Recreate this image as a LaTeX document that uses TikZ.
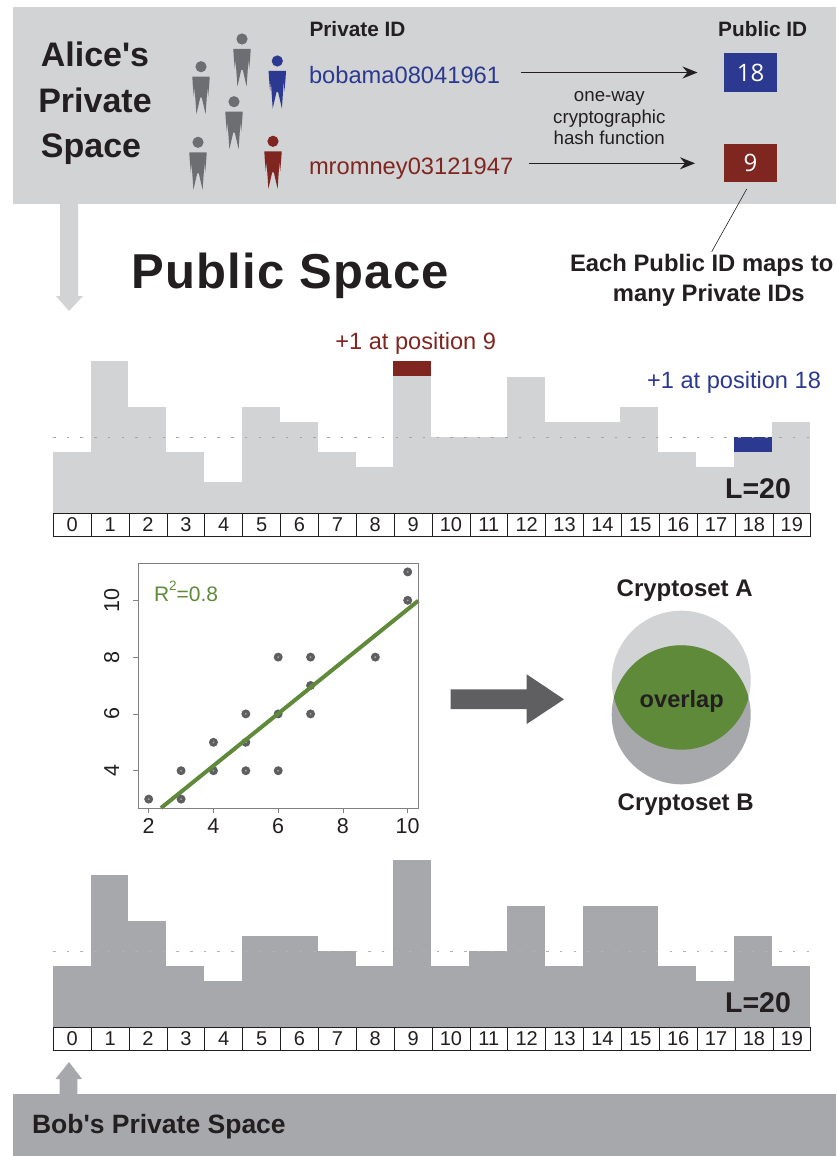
\documentclass[tikz,border=0pt]{standalone}
\usepackage{fontspec}
\setmainfont{Liberation Sans}[Ligatures=TeXOff]
\newfontfamily\openfont{Open Sans}
\usetikzlibrary{arrows.meta,calc}
\definecolor{ink}{HTML}{231F20}
\definecolor{lightbar}{HTML}{D2D3D5}
\definecolor{darkbar}{HTML}{A7A8AB}
\definecolor{idblue}{HTML}{2B3990}
\definecolor{idred}{HTML}{802620}
\definecolor{fig}{HTML}{6D6E71}
\definecolor{dark}{HTML}{5F5F61}
\definecolor{leaf}{HTML}{5F8A3A}
\newcommand{\fs}[1]{\fontsize{#1}{#1}\selectfont}
\newcommand{\person}[3]{%
  \fill[#3] (#1,#2) circle[radius=5.6];
  \fill[#3,shift={(#1,#2)}] (-8.7,10)--(8.7,10)--(8.3,17)--(7.2,30)--(6.3,20)--(6,27)--(4.6,47.5)--(0.8,31)--(-0.8,31)--(-4.6,47.5)--(-6,27)--(-6.3,20)--(-7.2,30)--(-8.3,17)--cycle;}
\tikzset{
  lbl/.style={inner sep=0pt,outer sep=0pt,text=ink},
  head/.style={lbl,font=\bfseries\fs{34},anchor=base},
  colhead/.style={lbl,font=\bfseries\fs{20.8},anchor=base},
  idtext/.style={lbl,font=\fs{23.7},anchor=base west},
  idbox/.style={inner sep=0pt,outer sep=0pt,minimum width=53pt,minimum height=38pt,text=white,font=\openfont\fs{24}},
  poslbl/.style={lbl,font=\fs{23.6},anchor=base},
  hashtext/.style={lbl,font=\fs{18.7},anchor=base},
  cell/.style={draw=ink,line width=0.6pt,fill=white,inner sep=0pt,outer sep=0pt,minimum width=37.87pt,minimum height=23pt,font=\fs{20},text=ink},
  binlen/.style={lbl,font=\bfseries\fs{28.5},anchor=base},
  setlbl/.style={lbl,font=\bfseries\fs{24},anchor=base},
  axnum/.style={lbl,font=\fs{21.5},anchor=base},
  guide/.style={line width=0.7pt,dash pattern=on 2.5pt off 11.2pt},
  hashline/.style={line width=1pt,draw=ink,-{Stealth[length=15pt,width=12pt,inset=5pt]}},
  axtick/.style={line width=0.6pt,draw=gray},
  x=1pt,y=-1pt
}
\begin{document}
\begin{tikzpicture}
\useasboundingbox (0,0) rectangle (836,1156);
% private space panels
\fill[lightbar] (60,204) -- (60,296) -- (56,296) -- (69,311) -- (83,296) -- (78,296) -- (78,204) -- cycle;
\fill[lightbar] (13,7.5) rectangle (836,204);
\fill[darkbar] (59.7,1095) -- (59.7,1079) -- (55.5,1079) -- (69,1062) -- (82,1079) -- (77.3,1079) -- (77.3,1095) -- cycle;
\fill[darkbar] (13,1094.3) rectangle (836,1156);
% panel headings
\node[head] (al1) at (95,66.7) {Alice's};
\node[head] (al2) at (95,112) {Private};
\node[head] (al3) at (91,157) {Space};
\node[colhead] (privid) at (357.5,36.7) {Private ID};
\node[colhead] (pubid) at (762.7,36.7) {Public ID};
% people
\person{242}{39}{fig}
\person{201}{66.7}{fig}
\person{234}{101.7}{fig}
\person{198}{142.3}{fig}
\person{277.3}{61}{idblue}
\person{273}{141.3}{idred}
% IDs
\node[idtext,text=idblue] (bobid) at (309,83) {bobama08041961};
\node[idtext,text=idred] (romid) at (309,174) {mromney03121947};
\node[idbox,fill=idblue] (b18) at (750.5,72.5) {18};
\node[idbox,fill=idred] (b9) at (750.5,163.3) {9};
\draw[hashline,shorten <=21pt,shorten >=26.5pt] (bobid.east |- b18.west) -- (b18.west);
\draw[hashline,shorten <=16pt,shorten >=29pt] (romid.east |- b9.west) -- (b9.west);
\node[hashtext] (hash1) at (609.3,101.7) {one-way};
\node[hashtext] (hash2) at (609.3,123) {cryptographic};
\node[hashtext] (hash3) at (609.3,144.3) {hash function};
% title and callout
\node[lbl,font=\bfseries\fs{49}\addfontfeature{LetterSpace=2.5},anchor=base west] (title) at (131.5,288) {Public Space};
\node[lbl,font=\bfseries\fs{23.8},anchor=base] (call1) at (701.7,271.7) {Each Public ID maps to};
\node[lbl,font=\bfseries\fs{23.8},anchor=base] (call2) at (708.8,301.7) {many Private IDs};
\coordinate (lead) at (746.7,189);
\draw[line width=0.6pt,draw=ink] (lead) -- (711.7,251.7);
% histogram A
\foreach \n/\h in {0/4,1/10,2/7,3/4,4/2,5/7,6/6,7/4,8/3,9/10,10/5,11/5,12/9,13/6,14/6,15/7,16/4,17/3,18/5,19/6}{
  \fill[lightbar] ({52.8+\n*37.84},512.7) rectangle ({52.8+(\n+1)*37.84},{512.7-\h*15.13});
}
\fill[idred] ({52.8+9*37.84},361) rectangle ({52.8+10*37.84},376.1);
\fill[idblue] ({52.8+18*37.84},436.9) rectangle ({52.8+19*37.84},452);
\draw[guide,draw=gray!70] (53,437.3) -- (810,437.3);
\foreach \n in {0,...,19}{
  \node[cell] (a\n) at ({53.3+(\n+0.5)*37.87},524.3) {\n};
}
\node[binlen] (la) at (758,498) {L=20};
\node[poslbl,text=idred] (p9) at (415.7,349) {+1 at position 9};
\node[poslbl,text=idblue] (p18) at (734,388) {+1 at position 18};
% scatter
\coordinate (sw) at (138.3,808);
\coordinate (ne) at (418.3,563.3);
\foreach \v in {2,4,6,8,10}{
  \draw[axtick] ({148.7+(\v-2)*32.375},808) -- ++(0,5);
  \node[axnum] at ({148.7+(\v-2)*32.375},833.5) {\v};
}
\foreach \v in {4,6,8,10}{
  \draw[axtick] (138.3,{770.7-(\v-4)*28.4}) -- ++(-5,0);
  \node[axnum,rotate=90] at (119,{770.7-(\v-4)*28.4}) {\v};
}
\foreach \px/\py in {2/3,3/3,3/4,4/4,4/5,5/4,5/5,5/6,6/4,6/6,6/8,7/6,7/7,7/8,9/8,10/10,10/11}{
  \fill[dark] ({148.7+(\px-2)*32.375},{770.7-(\py-4)*28.4}) circle[radius=4.5];
  \fill[gray!70] ({148.7+(\px-2)*32.375},{770.7-(\py-4)*28.4}) circle[radius=1];
}
\draw[line width=4pt,draw=leaf] (161,808) -- (418.3,600.7);
\draw[line width=0.9pt,draw=gray] (sw) rectangle (ne);
\node[lbl,font=\fs{21},text=leaf,anchor=base west] (r2) at (154,601) {R\raisebox{0.5em}{\fs{13.5}2}=0.8};
% big arrow
\fill[dark] (450.7,689.3) -- (526.7,689.3) -- (526.7,674.3) -- (564,699.3) -- (526.7,724) -- (526.7,709) -- (450.7,709) -- cycle;
% venn
\fill[lightbar] (681.2,680.2) circle[radius=69.5];
\fill[darkbar] (681.2,714.8) circle[radius=69.5];
\begin{scope}
  \clip (681.2,680.2) circle[radius=69.5];
  \fill[leaf] (681.2,714.8) circle[radius=69.5];
\end{scope}
\node[lbl,font=\bfseries\fs{23.6},anchor=base] (ov) at (681.7,707) {overlap};
\node[setlbl] (csa) at (684.7,596) {Cryptoset A};
\node[setlbl] (csb) at (685.7,810.7) {Cryptoset B};
% histogram B
\foreach \n/\h in {0/4,1/10,2/7,3/4,4/3,5/6,6/6,7/5,8/4,9/11,10/4,11/5,12/8,13/4,14/8,15/8,16/4,17/3,18/6,19/4}{
  \fill[darkbar] ({52.8+\n*37.84},1026.7) rectangle ({52.8+(\n+1)*37.84},{1026.7-\h*15.13});
}
\draw[guide,draw=gray!60] (53,951.7) -- (810,951.7);
\foreach \n in {0,...,19}{
  \node[cell] (c\n) at ({53.3+(\n+0.5)*37.87},1038.4) {\n};
}
\node[binlen] (lb) at (758,1012) {L=20};
\node[lbl,font=\bfseries\fs{26.5},anchor=base west] (bob) at (32,1133) {Bob's Private Space};
\end{tikzpicture}
\end{document}
